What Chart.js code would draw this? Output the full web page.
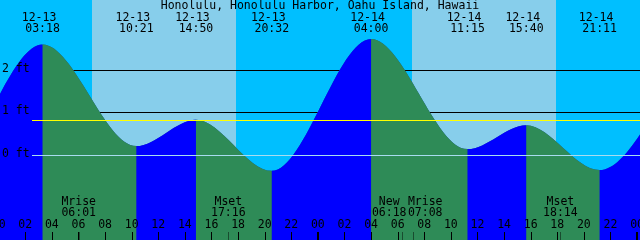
<!DOCTYPE html>
<html>
<head>
<meta charset="utf-8">
<script src="https://cdn.jsdelivr.net/npm/chart.js@4"></script>
<style>
  html, body { margin: 0; padding: 0; background: #00bfff; }
  canvas { display: block; }
</style>
</head>
<body>
<canvas id="tide" width="640" height="240"></canvas>
<script>
var title = 'Honolulu, Honolulu Harbor, Oahu Island, Hawaii';

// highs and lows (first two and last two fall outside the picture, they only shape the curve ends)
var tideDate = ['12-12', '12-12', '12-13', '12-13', '12-13', '12-13', '12-14', '12-14', '12-14', '12-14', '12-15', '12-15'];
var tideTime = ['13:30', '19:50', '03:18', '10:21', '14:50', '20:32', '04:00', '11:15', '15:40', '21:11', '06:00', '12:30'];
var tideFeet = [0.95, -0.35, 2.60, 0.22, 0.84, -0.36, 2.73, 0.15, 0.71, -0.34, 2.70, 0.10];

// daylight
var sunDate = ['12-13', '12-14'];
var sunrise = ['07:01', '07:04'];
var sunset = ['17:50', '17:54'];

// moon events
var moonDate = ['12-13', '12-13', '12-14', '12-14', '12-14'];
var moonTime = ['06:01', '17:16', '06:18', '07:08', '18:14'];
var moonLabel = ['Mrise', 'Mset', 'New', 'Mrise', 'Mset'];

// axes
var hourTicks = [0, 2, 4, 6, 8, 10, 12, 14, 16, 18, 20, 22, 24, 26, 28, 30, 32, 34, 36, 38, 40, 42, 44, 46, 48];
var hourLabels = ['00', '02', '04', '06', '08', '10', '12', '14', '16', '18', '20', '22',
                  '00', '02', '04', '06', '08', '10', '12', '14', '16', '18', '20', '22', '00'];
var dayTicks = [0, 24, 48];
var ftTicks = [2, 1, 0];
var ftLabels = ['2 ft', '1 ft', '0 ft'];
var meanLevel = 0.83;

// hours counted from 12-13 00:00
function toHours(date, time) {
  var day = parseInt(date.split('-')[1], 10) - 13;
  var hm = time.split(':');
  return day * 24 + parseInt(hm[0], 10) + parseInt(hm[1], 10) / 60;
}

var points = [];
for (var i = 0; i < tideFeet.length; i++) {
  points.push({x: toHours(tideDate[i], tideTime[i]), y: tideFeet[i]});
}

var FONT = '11.5px "DejaVu Sans Mono", "Liberation Mono", monospace';

var decor = {
  id: 'decor',
  beforeDatasetsDraw: function(chart) {
    var c = chart.ctx, a = chart.chartArea, xs = chart.scales.x, ys = chart.scales.y;
    c.save();
    c.fillStyle = '#00bfff';
    c.fillRect(a.left, a.top, a.width, a.height);
    c.fillStyle = '#87ceeb';
    for (var i = 0; i < sunDate.length; i++) {
      var x0 = Math.round(xs.getPixelForValue(toHours(sunDate[i], sunrise[i])));
      var x1 = Math.round(xs.getPixelForValue(toHours(sunDate[i], sunset[i])));
      c.fillRect(x0, a.top, x1 - x0, a.height);
    }
    // foot lines sit behind the water
    c.fillStyle = '#000000';
    for (var j = 0; j < ftTicks.length; j++) {
      if (ftTicks[j] === 0) continue;
      var py = Math.floor(ys.getPixelForValue(ftTicks[j]));
      c.fillRect(a.left + 32, py, a.right - a.left - 32, 1);
    }
    c.restore();
  },
  afterDatasetsDraw: function(chart) {
    var c = chart.ctx, a = chart.chartArea, xs = chart.scales.x, ys = chart.scales.y;
    c.save();
    // datum and mean level on top of the water
    c.fillStyle = '#a8dcf0';
    c.fillRect(a.left + 32, Math.floor(ys.getPixelForValue(0)), a.right - a.left - 32, 1);
    c.fillStyle = '#ffff00';
    c.fillRect(a.left + 32, Math.floor(ys.getPixelForValue(meanLevel)), a.right - a.left - 32, 1);

    c.font = FONT;
    c.fillStyle = '#000000';
    c.textBaseline = 'middle';
    c.textAlign = 'left';
    for (var j = 0; j < ftTicks.length; j++) {
      c.fillText(ftLabels[j], a.left + 2, Math.floor(ys.getPixelForValue(ftTicks[j])) - 0.5);
    }

    c.textAlign = 'center';
    c.fillText(title, (a.left + a.right) / 2, 6.5);

    // high / low labels
    for (var i = 0; i < points.length; i++) {
      if (points[i].x < xs.min || points[i].x > xs.max) continue;
      var px = xs.getPixelForValue(points[i].x);
      c.fillText(tideDate[i], px - 3.5, 18);
      c.fillText(tideTime[i], px, 29.5);
    }

    // hour ticks
    for (var k = 0; k < hourTicks.length; k++) {
      var hx = xs.getPixelForValue(hourTicks[k]);
      c.fillText(hourLabels[k], hx, 225.5);
      c.fillRect(Math.round(hx), 232, 1, 8);
    }
    for (var d = 0; d < dayTicks.length; d++) {
      c.fillRect(Math.round(xs.getPixelForValue(dayTicks[d])) - 1, 232, 2, 8);
    }

    // moon events, pushed apart when they would overlap
    var mx = [], w = 36;
    for (var m = 0; m < moonTime.length; m++) {
      mx.push(xs.getPixelForValue(toHours(moonDate[m], moonTime[m])));
    }
    var lx = mx.slice();
    for (var n = 0; n < lx.length - 1; n++) {
      if (lx[n + 1] - lx[n] < w) {
        var mid = (lx[n] + lx[n + 1]) / 2;
        lx[n] = mid - w / 2;
        lx[n + 1] = mid + w / 2;
      }
    }
    for (var q = 0; q < moonTime.length; q++) {
      c.fillStyle = '#000000';
      c.fillText(moonLabel[q], lx[q], 202);
      c.fillText(moonTime[q], lx[q], 213.5);
      c.fillStyle = 'rgba(0,0,0,0.45)';
      c.fillRect(Math.round(mx[q]), 232, 1, 8);
    }
    c.restore();
  }
};

var tideChart = new Chart(document.getElementById('tide'), {
  type: 'line',
  data: {
    datasets: [{
      label: 'tide',
      data: points,
      order: 0,
      fill: 'start',
      backgroundColor: '#0000ff',
      borderWidth: 0,
      borderColor: 'transparent',
      pointRadius: 0,
      cubicInterpolationMode: 'monotone',
      segment: {
        // rising water blue, falling water green
        backgroundColor: function(ctx) {
          return ctx.p1.parsed.y > ctx.p0.parsed.y ? '#0000ff' : '#2e8b57';
        }
      }
    }, {
      // plain underlay so the blue/green seams do not let the sky through
      label: 'under',
      data: points,
      order: 1,
      fill: 'start',
      backgroundColor: '#1a4aa0',
      borderWidth: 0,
      borderColor: 'transparent',
      pointRadius: 0,
      cubicInterpolationMode: 'monotone'
    }]
  },
  options: {
    responsive: false,
    animation: false,
    devicePixelRatio: 1,
    layout: { padding: 0 },
    scales: {
      x: { type: 'linear', min: 0.1, max: 48.22, display: false },
      y: { min: -1.979, max: 3.642, display: false }
    },
    plugins: {
      legend: { display: false },
      tooltip: { enabled: false }
    }
  },
  plugins: [decor]
});
</script>
</body>
</html>
